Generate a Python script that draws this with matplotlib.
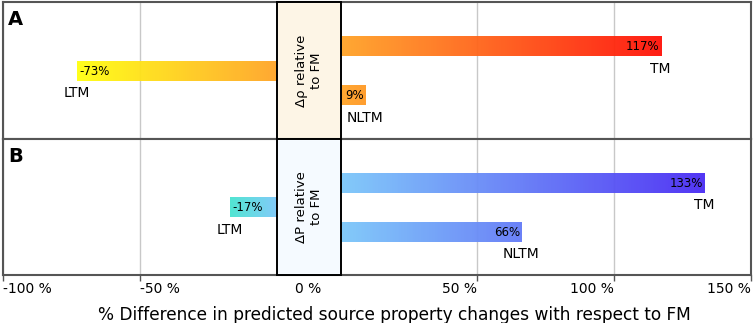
import matplotlib
matplotlib.use("Agg")
import matplotlib.pyplot as plt
import numpy as np
from matplotlib.colors import LinearSegmentedColormap, TwoSlopeNorm
from matplotlib.patches import Rectangle
from matplotlib.transforms import blended_transform_factory

models = ["TM", "LTM", "NLTM"]
rho_diff = [117, -73, 9]      # panel A, % vs FM
p_diff = [133, -17, 66]       # panel B, % vs FM
tick_values = [-100, -50, 0, 50, 100, 150]
tick_labels = ["-100 %", "-50 %", "0 %", "50 %", "100 %", "150 %"]

GAP = 23.4  # width of the centre box, in x units
y_pos = {"TM": 3, "LTM": 2, "NLTM": 1}
BAR_H = 0.78

cmap_a = LinearSegmentedColormap.from_list("rho", ["#ffff10", "#ffa428", "#ff1208"])
cmap_b = LinearSegmentedColormap.from_list("p", ["#48e4d0", "#7cc8fa", "#4a2cf4"])


def shift(v):
    # positive side sits to the right of the centre box
    return v if v <= 0 else v + GAP


def draw_panel(ax, values, cmap, box_color, box_text, letter):
    norm = TwoSlopeNorm(vcenter=0, vmin=min(values), vmax=max(values))
    for name, v in zip(models, values):
        y = y_pos[name]
        grad = np.linspace(0, v, 256).reshape(1, -1)
        x0 = GAP if v > 0 else 0
        x1 = shift(v)
        ax.imshow(grad, extent=[x0, x1, y - BAR_H / 2, y + BAR_H / 2],
                  cmap=cmap, norm=norm, aspect="auto", alpha=0.95,
                  interpolation="bilinear", zorder=2)
        if v < 0:
            ax.text(x1 + 1, y, f"{v}%", ha="left", va="center", fontsize=8.5, zorder=3)
        else:
            ax.text(x1 - 0.5, y, f"{v}%", ha="right", va="center", fontsize=8.5, zorder=3)
        ax.text(x1, y - 0.9, name, ha="center", va="center", fontsize=10, zorder=3)

    trans = blended_transform_factory(ax.transData, ax.transAxes)
    ax.add_patch(Rectangle((0, 0), GAP, 1, transform=trans, facecolor=box_color,
                           edgecolor="black", lw=1.4, zorder=4, clip_on=False))
    ax.text(GAP / 2, 0.5, box_text, transform=trans, rotation=90, ha="center",
            va="center", fontsize=9.5, zorder=5, linespacing=1.2)
    ax.text(0.007, 0.94, letter, transform=ax.transAxes, fontsize=14,
            fontweight="bold", ha="left", va="top")

    ax.set_xlim(-100, 150 + GAP)
    ax.set_ylim(-0.75, 4.8)
    ax.set_yticks([])
    ax.set_xticks([shift(t) if t != 0 else GAP / 2 for t in tick_values])
    ax.grid(axis="x", color="#c8c8c8", lw=1, zorder=0)
    ax.set_axisbelow(True)
    for s in ax.spines.values():
        s.set_color("#555555")
        s.set_linewidth(1.5)


fig = plt.figure(figsize=(7.54, 3.23), dpi=100)
ax_a = fig.add_axes([0.004, 0.5697, 0.992, 0.4243])
ax_b = fig.add_axes([0.004, 0.1486, 0.992, 0.4211])

draw_panel(ax_a, rho_diff, cmap_a, "#fdf5e6", "Δρ relative\nto FM", "A")
draw_panel(ax_b, p_diff, cmap_b, "#f5faff", "ΔP relative\nto FM", "B")

ax_a.tick_params(axis="x", length=0, labelbottom=False)
ax_b.tick_params(axis="x", length=4, width=1, color="#555555", labelsize=10, pad=1)
ax_b.set_xticklabels(tick_labels)
for t, lab in zip(tick_values, ax_b.get_xticklabels()):
    lab.set_ha("left" if t < 0 else ("right" if t > 0 else "center"))
ax_b.xaxis.get_major_ticks()[2].tick1line.set_visible(False)
ax_b.set_xlabel("% Difference in predicted source property changes with respect to FM",
                fontsize=12.25, labelpad=7)
ax_b.xaxis.label.set_x(0.523)

fig.savefig("out.png", dpi=100)
